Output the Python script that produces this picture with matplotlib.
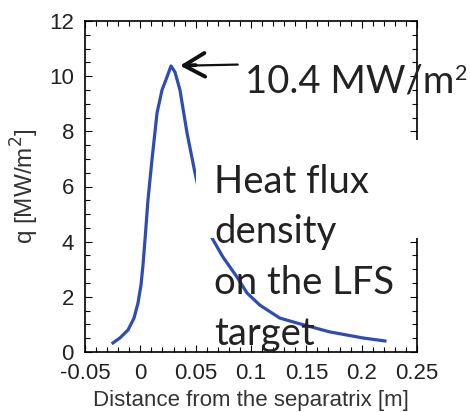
import matplotlib
matplotlib.use("Agg")
import matplotlib.pyplot as plt
from matplotlib.patches import Rectangle
from matplotlib.ticker import MultipleLocator

# heat flux profile
dist = [-0.0247, -0.0184, -0.0111, -0.0057, -0.0021, 0.0006, 0.0024, 0.0042,
        0.0069, 0.0105, 0.0151, 0.0196, 0.0241, 0.0277, 0.0313, 0.0358,
        0.0422, 0.0494, 0.056, 0.0648, 0.0747, 0.0873, 0.0964, 0.108,
        0.126, 0.1416, 0.171, 0.201, 0.221]
q = [0.33, 0.51, 0.80, 1.23, 1.78, 2.43, 3.15, 4.06,
     5.51, 6.96, 8.67, 9.5, 9.97, 10.37, 10.15, 9.5,
     7.94, 6.49, 5.3, 4.13, 3.44, 2.72, 2.14, 1.7,
     1.23, 1.05, 0.73, 0.51, 0.40]
peak_x, peak_q = 0.0277, 10.37

W, H = 470, 412
fig = plt.figure(figsize=(W / 100, H / 100), dpi=100)
ax = fig.add_axes([85 / W, 1 - 352 / H, 332 / W, 331 / H])

ax.plot(dist, q, color='#2f4cb2', lw=2.3, solid_joinstyle='round')
ax.set_xlim(-0.05, 0.25)
ax.set_ylim(0, 12)
ax.set_xticks([-0.05, 0, 0.05, 0.1, 0.15, 0.2, 0.25])
ax.set_xticklabels(['-0.05', '0', '0.05', '0.1', '0.15', '0.2', '0.25'])
ax.xaxis.set_minor_locator(MultipleLocator(0.01))
ax.yaxis.set_major_locator(MultipleLocator(2))
ax.yaxis.set_minor_locator(MultipleLocator(0.5))
ax.tick_params(which='both', direction='in', top=True, right=True,
               width=0.8, labelsize=16)
ax.tick_params(axis='x', pad=8)
ax.tick_params(axis='y', pad=8)
ax.tick_params(which='major', length=5)
ax.tick_params(which='minor', length=3.5)
for lab in ax.get_xticklabels() + ax.get_yticklabels():
    lab.set_family('Liberation Sans')
    lab.set_color('#222222')
for s in ax.spines.values():
    s.set_linewidth(1.2)
ax.set_xlabel('Distance from the separatrix [m]', family='Liberation Sans',
              fontsize=16, color='#333333', labelpad=4)
ax.set_ylabel('q [MW/m$^2$]', family='Liberation Sans', fontsize=17.5,
              color='#333333', labelpad=6)

# white box pasted over the plot
fig.add_artist(Rectangle((196 / W, 1 - 238 / H), 226 / W, 98 / H,
                         transform=fig.transFigure, facecolor='white',
                         edgecolor='none', zorder=2))

# arrow: thin shaft plus a heavy open head
ax.annotate('', xy=(peak_x, peak_q), xytext=(0.088, 10.42),
            arrowprops=dict(arrowstyle='-', lw=1.6, color='#111111',
                            shrinkA=0, shrinkB=9),
            annotation_clip=False)
ax.annotate('', xy=(peak_x, peak_q), xytext=(0.05, 10.4),
            arrowprops=dict(arrowstyle='->,head_length=1.5,head_width=0.85',
                            lw=2.8, color='#111111', shrinkA=0, shrinkB=6.5),
            annotation_clip=False)

t = fig.text(245 / W, 1 - 92 / H, '10.4 MW/m', family='Lato', fontsize=27.5,
             color='#222222', zorder=3)
fig.canvas.draw()
bb = t.get_window_extent()
fig.text(bb.x1 / W + 1 / W, 1 - 64 / H, '2', family='Lato', fontsize=15.5,
         color='#222222', va='top', zorder=3)

lines = ['Heat flux', 'density', 'on the LFS', 'target']
for i, s in enumerate(lines):
    fig.text(214 / W, 1 - (193 + 50.5 * i) / H, s, family='Lato',
             fontsize=27.5, color='#222222', zorder=3)

fig.savefig('out.png', dpi=100)
